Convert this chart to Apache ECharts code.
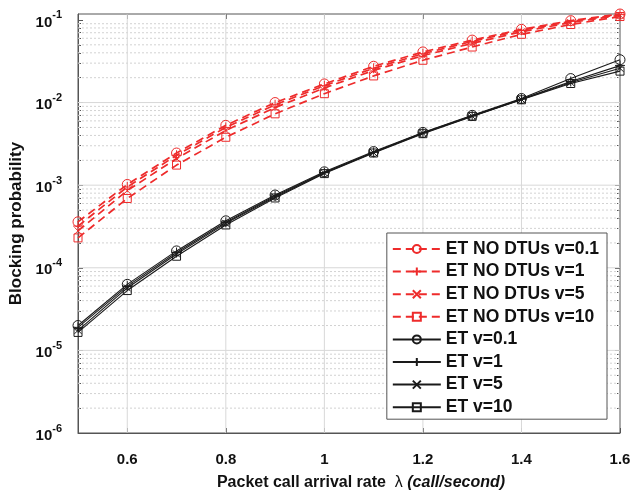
<!DOCTYPE html>
<html>
<head>
<meta charset="utf-8">
<script src="https://cdn.jsdelivr.net/npm/echarts@6/dist/echarts.min.js"></script>
<style>
  html, body { margin: 0; padding: 0; background: #fff; }
  #chart { width: 642px; height: 494px; }
</style>
</head>
<body>
<div id="chart"></div>
<script>
// Packet call arrival rate (call/second)
const lambdas = [0.5, 0.6, 0.7, 0.8, 0.9, 1.0, 1.1, 1.2, 1.3, 1.4, 1.5, 1.6];

// ET without DTUs (red dashed)
const noDtuV01 = [3.6e-4, 1.02e-3, 2.45e-3, 5.3e-3, 1.0e-2, 1.68e-2, 2.75e-2, 4.1e-2, 5.7e-2, 7.7e-2, 0.098, 0.118];
const noDtuV1  = [3.2e-4, 9.5e-4, 2.3e-3, 5.0e-3, 9.4e-3, 1.6e-2, 2.6e-2, 3.9e-2, 5.5e-2, 7.5e-2, 0.096, 0.116];
const noDtuV5  = [2.8e-4, 8.6e-4, 2.1e-3, 4.6e-3, 8.7e-3, 1.5e-2, 2.45e-2, 3.7e-2, 5.2e-2, 7.2e-2, 0.093, 0.114];
const noDtuV10 = [2.3e-4, 6.9e-4, 1.75e-3, 3.8e-3, 7.3e-3, 1.28e-2, 2.1e-2, 3.25e-2, 4.7e-2, 6.7e-2, 0.088, 0.11];

// ET (black solid)
const etV01 = [2.0e-5, 6.3e-5, 1.6e-4, 3.7e-4, 7.6e-4, 1.45e-3, 2.55e-3, 4.35e-3, 7.0e-3, 1.12e-2, 1.95e-2, 3.3e-2];
const etV1  = [1.9e-5, 6.0e-5, 1.53e-4, 3.55e-4, 7.4e-4, 1.42e-3, 2.5e-3, 4.3e-3, 6.9e-3, 1.1e-2, 1.8e-2, 2.8e-2];
const etV5  = [1.75e-5, 5.7e-5, 1.47e-4, 3.45e-4, 7.2e-4, 1.4e-3, 2.48e-3, 4.25e-3, 6.85e-3, 1.09e-2, 1.75e-2, 2.6e-2];
const etV10 = [1.65e-5, 5.3e-5, 1.38e-4, 3.3e-4, 7.0e-4, 1.38e-3, 2.45e-3, 4.2e-3, 6.8e-3, 1.08e-2, 1.7e-2, 2.4e-2];

// axis ticks
const xTicks = [0.6, 0.8, 1.0, 1.2, 1.4, 1.6];
const yMajor = [1e-6, 1e-5, 1e-4, 1e-3, 1e-2, 1e-1];
const yMinor = [];
[1e-6, 1e-5, 1e-4, 1e-3, 1e-2].forEach(d => {
  for (let k = 2; k <= 9; k++) yMinor.push(+(k * d).toPrecision(3));
});

const X_MIN = 0.5, X_MAX = 1.6, Y_MIN = 1e-6, Y_MAX = 0.118;

const RED = '#ee2b2b';
const BLACK = '#1a1a1a';
const FONT = 'Liberation Sans, Arial, sans-serif';

const PLUS = 'path://M5,0L5,10M0,5L10,5';
const CROSS = 'path://M0,0L10,10M10,0L0,10';

function mkSeries(name, values, color, symbol, size, dashed) {
  return {
    name: name,
    type: 'line',
    data: lambdas.map((x, i) => [x, values[i]]),
    symbol: symbol,
    symbolSize: size,
    showAllSymbol: true,
    color: color,
    lineStyle: { color: color, width: dashed ? 1.7 : 1.1, type: dashed ? [8, 5] : 'solid' },
    itemStyle: { color: 'rgba(0,0,0,0)', borderColor: color, borderWidth: 1 },
    emphasis: { disabled: true },
    z: dashed ? 3 : 4
  };
}

const series = [
  mkSeries('ET NO DTUs v=0.1', noDtuV01, RED, 'circle', 10, true),
  mkSeries('ET NO DTUs v=1', noDtuV1, RED, PLUS, 10, true),
  mkSeries('ET NO DTUs v=5', noDtuV5, RED, CROSS, 7, true),
  mkSeries('ET NO DTUs v=10', noDtuV10, RED, 'rect', 8, true),
  mkSeries('ET v=0.1', etV01, BLACK, 'circle', 10, false),
  mkSeries('ET v=1', etV1, BLACK, PLUS, 10, false),
  mkSeries('ET v=5', etV5, BLACK, CROSS, 7, false),
  mkSeries('ET v=10', etV10, BLACK, 'rect', 8, false)
];

// background grid lines, one helper line per tick value
function gridLine(points, style) {
  return {
    type: 'line',
    data: points,
    symbol: 'none',
    silent: true,
    z: 1,
    lineStyle: style,
    emphasis: { disabled: true }
  };
}
yMinor.forEach(v => series.push(gridLine([[X_MIN, v], [X_MAX, v]], { color: '#d2d2d2', type: [2, 2], width: 1 })));
yMajor.slice(1, -1).forEach(v => series.push(gridLine([[X_MIN, v], [X_MAX, v]], { color: '#d8d8d8', width: 1 })));
xTicks.slice(0, -1).forEach(v => series.push(gridLine([[v, Y_MIN], [v, Y_MAX]], { color: '#d8d8d8', width: 1 })));

// tick-only y axes (mirror and minor ticks, MATLAB box style)
function tickAxis(position, values, len) {
  return {
    type: 'log',
    logBase: 10,
    position: position,
    min: Y_MIN,
    max: Y_MAX,
    axisLine: { show: false },
    axisTick: { inside: true, length: len, lineStyle: { color: '#555' }, customValues: values },
    axisLabel: { show: false },
    splitLine: { show: false }
  };
}

const chart = echarts.init(document.getElementById('chart'), null, { renderer: 'canvas' });

chart.setOption({
  animation: false,
  backgroundColor: '#fff',
  grid: {
    left: 78, right: 22, top: 14, bottom: 61,
    outerBoundsMode: 'none',
    show: true, borderColor: '#555', borderWidth: 1
  },
  legend: {
    orient: 'vertical',
    right: 35,
    top: 233,
    padding: [7, 8, 3, 5],
    itemWidth: 48,
    itemHeight: 10,
    itemGap: 4.6,
    backgroundColor: '#fff',
    borderColor: '#555',
    borderWidth: 1,
    borderRadius: 0,
    textStyle: { fontFamily: FONT, fontWeight: 'bold', fontSize: 17.5, color: '#111' },
    data: series.slice(0, 8).map(s => s.name)
  },
  xAxis: [
    {
      type: 'value',
      min: X_MIN,
      max: X_MAX,
      name: '{n|Packet call arrival rate  }{l|λ }{i|(call/second)}',
      nameLocation: 'middle',
      nameGap: 42,
      nameTextStyle: {
        padding: [0, 0, 0, 24],
        rich: {
          n: { fontFamily: FONT, fontWeight: 'bold', fontSize: 16, color: '#111' },
          l: { fontFamily: FONT, fontSize: 16, color: '#111' },
          i: { fontFamily: FONT, fontWeight: 'bold', fontStyle: 'italic', fontSize: 16, color: '#111' }
        }
      },
      axisLine: { lineStyle: { color: '#555' } },
      axisTick: { inside: true, length: 5, lineStyle: { color: '#555' }, customValues: xTicks },
      axisLabel: {
        customValues: xTicks,
        margin: 19,
        fontFamily: FONT,
        fontWeight: 'bold',
        fontSize: 15,
        color: '#111',
        formatter: v => String(+v.toFixed(1))
      },
      splitLine: { show: false }
    },
    {
      type: 'value',
      position: 'top',
      min: X_MIN,
      max: X_MAX,
      axisLine: { show: false },
      axisTick: { inside: true, length: 5, lineStyle: { color: '#555' }, customValues: xTicks },
      axisLabel: { show: false },
      splitLine: { show: false }
    }
  ],
  yAxis: [
    {
      type: 'log',
      logBase: 10,
      min: Y_MIN,
      max: Y_MAX,
      name: 'Blocking probability',
      nameLocation: 'middle',
      nameGap: 46,
      nameTextStyle: { fontFamily: FONT, fontWeight: 'bold', fontSize: 17, color: '#111' },
      axisLine: { show: true, lineStyle: { color: '#555' } },
      axisTick: { inside: true, length: 5, lineStyle: { color: '#555' }, customValues: yMajor },
      axisLabel: {
        customValues: yMajor,
        margin: 16,
        formatter: function (v) {
          const e = Math.round(Math.log10(v));
          return '{b|10}{s|' + e + '}';
        },
        rich: {
          b: { fontFamily: FONT, fontWeight: 'bold', fontSize: 15, color: '#111', verticalAlign: 'bottom' },
          s: { fontFamily: FONT, fontWeight: 'bold', fontSize: 11, color: '#111', verticalAlign: 'bottom', padding: [0, 0, 9, 0] }
        }
      },
      splitLine: { show: false }
    },
    tickAxis('right', yMajor, 5),
    tickAxis('left', yMinor, 3),
    tickAxis('right', yMinor, 3)
  ],
  series: series
});
</script>
</body>
</html>
